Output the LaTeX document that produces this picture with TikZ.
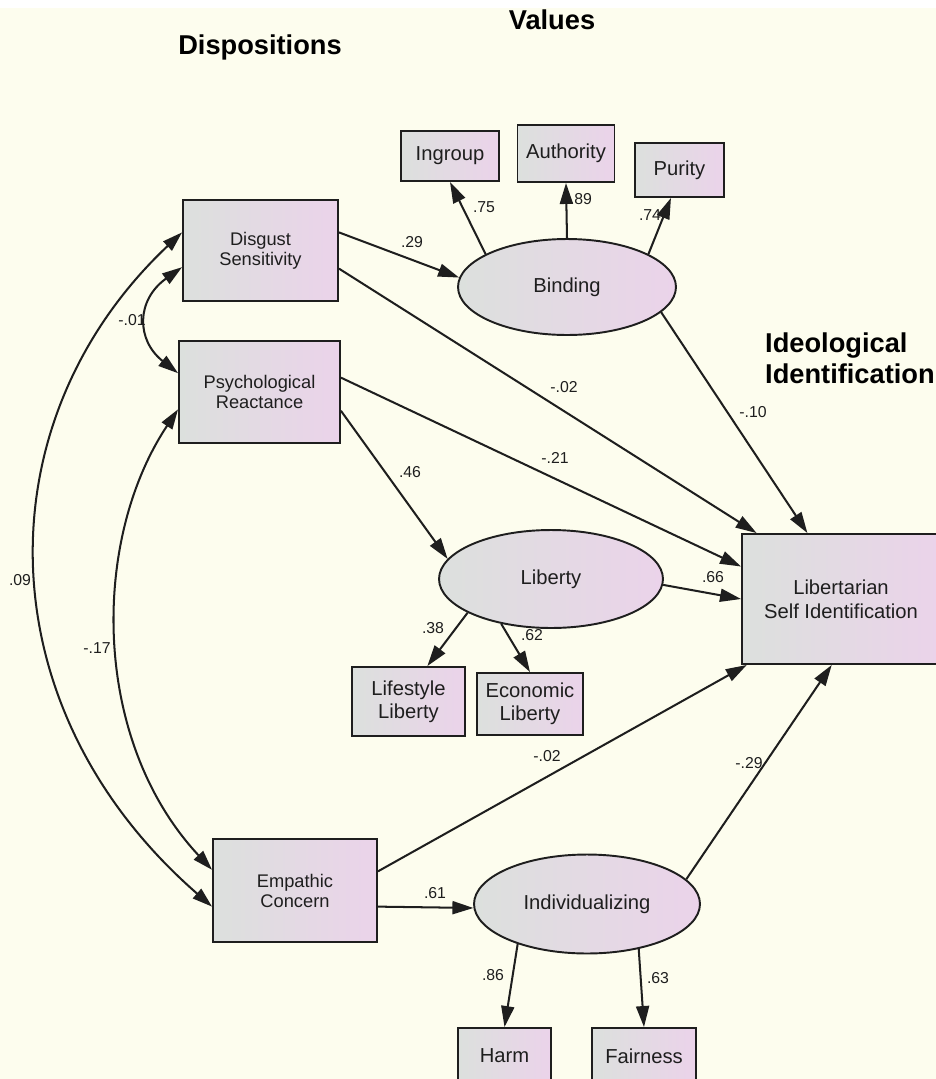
\documentclass[tikz,border=0pt]{standalone}
\usepackage{fontspec}
\setmainfont{Liberation Sans}
\usetikzlibrary{arrows.meta,shapes.geometric}
\definecolor{cream}{HTML}{FDFDEE}
\definecolor{boxgray}{HTML}{DCE0DD}
\definecolor{boxpink}{HTML}{EBD3EA}
\definecolor{ink}{HTML}{1E1E1E}

\begin{document}
\begin{tikzpicture}[x=0.02cm,y=-0.02cm,
    obs/.style={rectangle,draw=ink,line width=1.1pt,left color=boxgray,right color=boxpink,inner sep=0pt,align=center,text=ink,font=\fontsize{11.5}{13}\selectfont},
    dsp/.style={obs,font=\fontsize{10.4}{11.4}\selectfont},
    lat/.style={ellipse,draw=ink,line width=1.1pt,left color=boxgray,right color=boxpink,inner sep=0pt,text=ink,font=\fontsize{11.5}{13}\selectfont},
    arr/.style={-{Triangle[length=4.2mm,width=2.6mm]},line width=1.15pt,draw=ink},
    cov/.style={{Triangle[length=4mm,width=2.5mm]}-{Triangle[length=4mm,width=2.5mm]},line width=1.15pt,draw=ink},
    coef/.style={font=\fontsize{9}{10}\selectfont,text=ink,inner sep=1pt},
    heading/.style={font=\bfseries\fontsize{15.5}{17.6}\selectfont,text=black}]
        \useasboundingbox (0,0) rectangle (936,1079);
        \fill[cream] (0,0) rectangle (936,1079);
        \fill[white] (0,0) rectangle (936,8);

        \node[heading] (vh) at (552,20) {Values};
        \node[heading] (dh) at (260,47) {Dispositions};
        \node[heading,anchor=west,align=left] (ih) at (759,358) {Ideological\\Identification};

        \node[obs,minimum width=1.96cm,minimum height=1cm] (ig) at (450,156) {Ingroup};
        \node[obs,minimum width=1.94cm,minimum height=1.14cm] (au) at (566,153.5) {Authority};
        \node[obs,minimum width=1.78cm,minimum height=1.08cm] (pu) at (679.5,170) {Purity};
        \node[dsp,minimum width=3.1cm,minimum height=2.02cm] (ds) at (260.5,250.5) {Disgust\\Sensitivity};
        \node[dsp,minimum width=3.22cm,minimum height=2.04cm] (pr) at (259.5,392) {Psychological\\Reactance};
        \node[dsp,minimum width=3.28cm,minimum height=2.06cm] (ec) at (295,890.5) {Empathic\\Concern};
        \node[lat,minimum width=4.36cm,minimum height=1.92cm] (bind) at (567,287) {Binding};
        \node[lat,minimum width=4.48cm,minimum height=1.96cm] (lib) at (551,579) {Liberty};
        \node[lat,minimum width=4.52cm,minimum height=1.98cm] (ind) at (587,904) {Individualizing};
        \node[obs,minimum width=3.96cm,minimum height=2.6cm,font=\fontsize{11.5}{13.6}\selectfont] (lsi) at (841,599) {Libertarian\\Self Identification};
        \node[obs,minimum width=2.26cm,minimum height=1.38cm] (ls) at (408.5,701.5) {Lifestyle\\Liberty};
        \node[obs,minimum width=2.12cm,minimum height=1.24cm] (el) at (530,704) {Economic\\Liberty};
        \node[obs,minimum width=1.86cm,minimum height=1.12cm] (harm) at (504.5,1056) {Harm};
        \node[obs,minimum width=2.08cm,minimum height=1.12cm] (fair) at (644,1056) {Fairness};

        \draw[arr] (ds.13) -- (bind.175);
        \draw[arr] (ds.-13) -- (lsi.142);
        \draw[arr] (pr.10) -- (lsi.162);
        \draw[arr] (pr.-13) -- (lib.169);
        \draw[arr] (bind.-15) -- (lsi.117);
        \draw[arr] (bind.158) -- (ig.south);
        \draw[arr] (bind.north) -- (au.south);
        \draw[arr] (bind.22) -- (pu.-107);
        \draw[arr] (lib.-3) -- (lsi.west);
        \draw[arr] (lib.202) -- (ls.62);
        \draw[arr] (lib.-138) -- (el.north);
        \draw[arr] (ec.13) -- (lsi.-145);
        \draw[arr] (ec.-11) -- (ind.182);
        \draw[arr] (ind.14) -- (lsi.-98);
        \draw[arr] (ind.-150) -- (harm.north);
        \draw[arr] (ind.-41) -- (fair.north);

        \draw[cov] (ds.167) .. controls (-17,420) and (-17,707) .. (ec.191);
        \draw[cov] (pr.192) .. controls (91,540) and (91,740) .. (ec.166);
        \draw[cov] (ds.192) .. controls (136,300) and (136,340) .. (pr.167);

        \node[coef] (k1) at (484,207) {.75};
        \node[coef] (k2) at (581,199) {.89};
        \node[coef] (k3) at (650,215) {.74};
        \node[coef] (k4) at (412,242) {.29};
        \node[coef] (k5) at (564,387) {-.02};
        \node[coef] (k6) at (753,412) {-.10};
        \node[coef] (k7) at (555,458) {-.21};
        \node[coef] (k8) at (410,472) {.46};
        \node[coef] (k9) at (713,577) {.66};
        \node[coef] (k10) at (433,628) {.38};
        \node[coef] (k11) at (532,635) {.62};
        \node[coef] (k12) at (547,756) {-.02};
        \node[coef] (k13) at (749,763) {-.29};
        \node[coef] (k14) at (435,893) {.61};
        \node[coef] (k15) at (493,975) {.86};
        \node[coef] (k16) at (658,978) {.63};
        \node[coef] (k17) at (20,580) {.09};
        \node[coef] (k18) at (97,648) {-.17};
        \node[coef] (k19) at (132,320) {-.01};
\end{tikzpicture}
\end{document}
